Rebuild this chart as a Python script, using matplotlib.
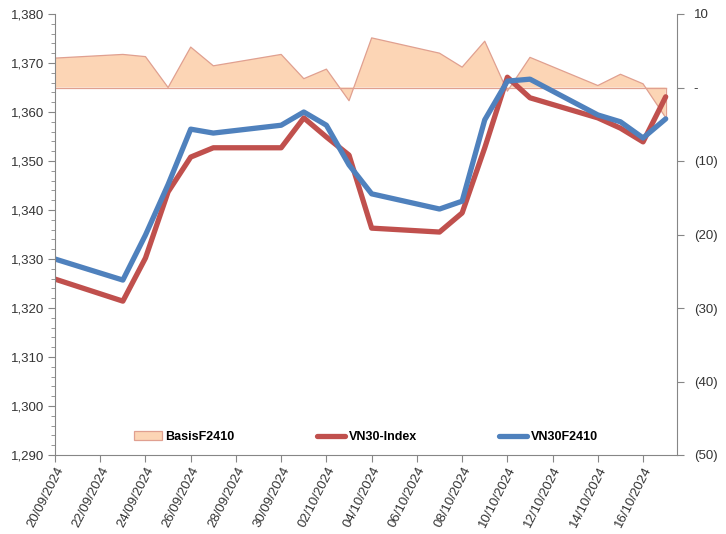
import matplotlib
matplotlib.use("Agg")
import matplotlib.pyplot as plt
import matplotlib.dates as mdates
import matplotlib.ticker as mticker
from matplotlib.patches import Patch
import pandas as pd

plt.rcParams['font.family'] = ['Liberation Sans', 'DejaVu Sans']

dates = pd.to_datetime([
    "2024-09-20", "2024-09-23", "2024-09-24", "2024-09-25", "2024-09-26",
    "2024-09-27", "2024-09-30", "2024-10-01", "2024-10-02", "2024-10-03",
    "2024-10-04", "2024-10-07", "2024-10-08", "2024-10-09", "2024-10-10",
    "2024-10-11", "2024-10-14", "2024-10-15", "2024-10-16", "2024-10-17",
])

vn30_index = [1325.9, 1321.4, 1330.2, 1343.7, 1350.8, 1352.7, 1352.7, 1358.8,
              1354.9, 1351.2, 1336.3, 1335.5, 1339.4, 1352.7, 1367.1, 1362.9,
              1358.8, 1356.7, 1353.9, 1363.1]
vn30f2410 = [1330.0, 1325.7, 1334.9, 1345.2, 1356.5, 1355.7, 1357.3, 1360.0,
             1357.3, 1349.2, 1343.3, 1340.2, 1341.8, 1358.4, 1366.3, 1366.7,
             1359.4, 1358.0, 1354.7, 1358.6]
basis = [4.0, 4.5, 4.2, 0.0, 5.5, 2.95, 4.5, 1.2, 2.5, -1.8, 6.75, 4.67,
         2.77, 6.3, -0.5, 4.1, 0.27, 1.8, 0.5, -4.1]

grey = "#868686"
txt = "#333333"
fill_c = "#FCD5B5"
edge_c = "#E0A090"

fig = plt.figure(figsize=(7.26, 5.34), dpi=100)
ax = fig.add_axes([55 / 726, 1 - 455 / 534, 622 / 726, 441 / 534])
ax2 = ax.twinx()

# basis area on secondary axis, drawn behind the lines
ax2.fill_between(dates, basis, 0, color=fill_c, edgecolor="none")
ax2.plot(dates, basis, color=edge_c, lw=0.9)
ax2.plot([dates[0], dates[-1]], [0, 0], color=edge_c, lw=0.9)
ax2.plot([dates[-1], dates[-1]], [0, basis[-1]], color=edge_c, lw=0.9)
ax.set_zorder(ax2.get_zorder() + 1)
ax.patch.set_visible(False)

ax.plot(dates, vn30_index, color="#C0504D", lw=3.8, label="VN30-Index", solid_capstyle="round")
ax.plot(dates, vn30f2410, color="#4F81BD", lw=3.8, label="VN30F2410", solid_capstyle="round")

ax.set_ylim(1290, 1380)
ax.yaxis.set_major_locator(mticker.MultipleLocator(10))
ax.yaxis.set_minor_locator(mticker.MultipleLocator(2))
ax.yaxis.set_major_formatter(mticker.FuncFormatter(lambda v, p: f"{v:,.0f}"))

ax2.set_ylim(-50, 10)
ax2.yaxis.set_major_locator(mticker.MultipleLocator(10))


def paren(v, p):
    if abs(v) < 1e-9:
        return "-"
    if v < 0:
        return f"({abs(v):.0f})"
    return f"{v:.0f}"


ax2.yaxis.set_major_formatter(mticker.FuncFormatter(paren))

ax.set_xlim(dates[0], dates[-1] + pd.Timedelta(hours=12))
ticks = pd.date_range("2024-09-20", "2024-10-16", freq="2D")
ax.set_xticks(ticks)
ax.xaxis.set_major_formatter(mdates.DateFormatter("%d/%m/%Y"))
for lab in ax.get_xticklabels():
    lab.set_rotation(63)
    lab.set_ha("right")
    lab.set_rotation_mode("anchor")

for a in (ax, ax2):
    a.spines["top"].set_visible(False)
    for s in ("left", "right", "bottom"):
        a.spines[s].set_color(grey)
ax.spines["right"].set_visible(False)
ax2.spines["left"].set_visible(False)
ax2.spines["bottom"].set_visible(False)

ax.tick_params(axis="y", which="major", length=5, color=grey, labelsize=9.5, labelcolor=txt, pad=3)
ax.tick_params(axis="y", which="minor", length=3, color=grey)
ax.tick_params(axis="x", which="major", length=5, color=grey, labelsize=9.5, labelcolor=txt, pad=2)
ax2.tick_params(axis="y", length=5, color=grey, labelsize=9.5, labelcolor=txt, pad=7)

h2, l2 = ax.get_legend_handles_labels()
h1 = [Patch(facecolor=fill_c, edgecolor=edge_c, lw=0.9)]
ax.legend(h1 + h2, ["BasisF2410"] + l2, loc="center", bbox_to_anchor=(0.5, 0.041),
          ncol=3, frameon=False, handlelength=2.2, handletextpad=0.3,
          columnspacing=6.6, prop={"weight": "bold", "size": 9})

fig.savefig("out.png", dpi=100)
